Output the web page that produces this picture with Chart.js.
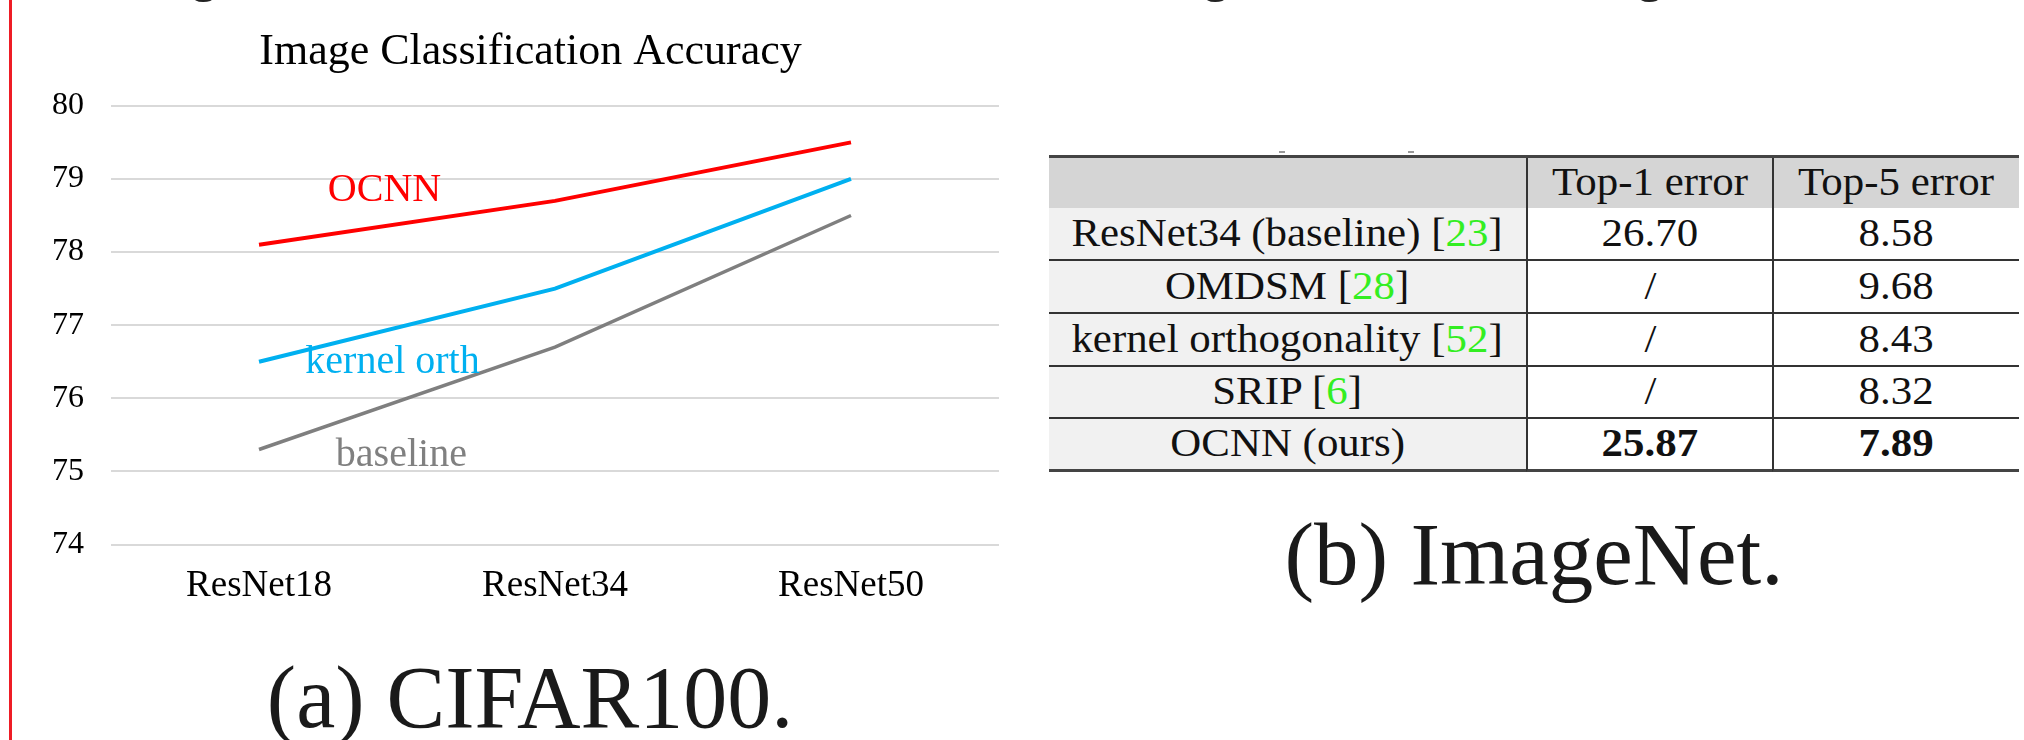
<!DOCTYPE html>
<html>
<head>
<meta charset="utf-8">
<script src="https://cdn.jsdelivr.net/npm/chart.js@4.4.1/dist/chart.umd.min.js"></script>
<style>
    html, body {
        margin: 0;
        width: 2024px;
        height: 740px;
        overflow: hidden;
        background: #fff;
        color: #111;
        font-family: "Liberation Serif", "Times New Roman", serif;
    }
    .red-rule {
        position: absolute;
        left: 9px;
        top: 0;
        width: 3px;
        height: 740px;
        background: #ee1c25;
    }
    .cut-glyph {
        position: absolute;
        top: -52px;
        font-size: 52px;
        line-height: 1;
        color: #222;
    }
    .dash {
        position: absolute;
        top: 151px;
        width: 6px;
        height: 2px;
        background: #999;
    }
    #accChart {
        position: absolute;
        left: 0;
        top: 0;
    }
    .caption {
        position: absolute;
        width: 900px;
        text-align: center;
        line-height: 1;
        color: #1a1a1a;
        white-space: nowrap;
    }
    #resultTable {
        position: absolute;
        left: 1049px;
        top: 155px;
        width: 970px;
        border-top: 3px solid #444;
        display: grid;
        grid-template-columns: 477px 246px 247px;
        grid-template-rows: 50px 53px 53px 53px 52px 53px;
    }
    .cell {
        box-sizing: border-box;
        display: flex;
        align-items: center;
        justify-content: center;
        font-size: 39px;
        line-height: 1;
        padding-bottom: 3px;
        background: #fff;
        border-bottom: 2px solid #333;
        white-space: nowrap;
    }
    .cell span.txt {
        display: inline-block;
        transform: scaleX(1.1);
    }
    .cell.head { background: #d5d5d5; border-bottom: none; }
    .cell.name { background: #f1f1f1; }
    .cell.col2, .cell.col3 { border-left: 2px solid #333; }
    .cell.last { border-bottom: 3px solid #444; }
    .cell.bold { font-weight: bold; }
    .ref { color: #33ee22; }
</style>
</head>
<body>
<div class="red-rule"></div>
<span class="cut-glyph" style="left:191px">g</span>
<span class="cut-glyph" style="left:1203px">g</span>
<span class="cut-glyph" style="left:1637px">g</span>
<div class="dash" style="left:1279px"></div>
<div class="dash" style="left:1408px"></div>

<canvas id="accChart" width="999" height="627"></canvas>

<div id="resultTable"></div>

<div class="caption" style="left:80px; top:654px; font-size:88px;">(a) CIFAR100.</div>
<div class="caption" style="left:1084px; top:510px; font-size:89px;">(b) ImageNet.</div>

<script>
// Chart data
const categories = ['ResNet18', 'ResNet34', 'ResNet50'];
const ocnnAcc = [78.1, 78.7, 79.5];
const kernelOrthAcc = [76.5, 77.5, 79.0];
const baselineAcc = [75.3, 76.7, 78.5];
const yTicks = [74, 75, 76, 77, 78, 79, 80];

// Table data
const tableHeaders = ['', 'Top-1 error', 'Top-5 error'];
const methods = ['ResNet34 (baseline)', 'OMDSM', 'kernel orthogonality', 'SRIP', 'OCNN (ours)'];
const refs = ['23', '28', '52', '6', ''];
const top1Err = ['26.70', '/', '/', '/', '25.87'];
const top5Err = ['8.58', '9.68', '8.43', '8.32', '7.89'];

document.addEventListener('DOMContentLoaded', function() {
    buildTable();
    drawChart();
});

function buildTable() {
    const table = document.getElementById('resultTable');
    let html = '';

    tableHeaders.forEach((h, i) => {
        html += '<div class="cell head col' + (i + 1) + '"><span class="txt">' + h + '</span></div>';
    });

    methods.forEach((m, r) => {
        const isLast = r === methods.length - 1;
        const extra = isLast ? ' last' : '';
        let name = m;
        if (refs[r]) name += ' [<span class="ref">' + refs[r] + '</span>]';
        html += '<div class="cell name col1' + extra + '"><span class="txt">' + name + '</span></div>';
        html += '<div class="cell col2' + extra + (isLast ? ' bold' : '') + '"><span class="txt">' + top1Err[r] + '</span></div>';
        html += '<div class="cell col3' + extra + (isLast ? ' bold' : '') + '"><span class="txt">' + top5Err[r] + '</span></div>';
    });

    table.innerHTML = html;
}

// where each series name sits, in (category index, accuracy) units
const labelAnchors = [[0.424, 78.70], [0.451, 76.34], [0.481, 75.08]];

const lineLabels = {
    id: 'lineLabels',
    afterLayout(chart) {
        // title in the original is centred a little right of the canvas middle
        chart.titleBlock.left += 6;
        chart.titleBlock.right += 6;
    },
    afterDatasetsDraw(chart) {
        const ctx = chart.ctx;
        const x = chart.scales.x;
        const y = chart.scales.y;
        ctx.save();
        ctx.font = '40px "Liberation Serif", serif';
        ctx.textAlign = 'center';
        ctx.textBaseline = 'alphabetic';
        chart.data.datasets.forEach((ds, i) => {
            ctx.fillStyle = ds.labelColor;
            ctx.fillText(ds.label, x.getPixelForValue(labelAnchors[i][0]), y.getPixelForValue(labelAnchors[i][1]));
        });
        ctx.restore();
    }
};

function drawChart() {
    Chart.defaults.font.family = '"Liberation Serif", serif';
    Chart.defaults.color = '#000';

    const ctx = document.getElementById('accChart').getContext('2d');
    new Chart(ctx, {
        type: 'line',
        data: {
            labels: categories,
            datasets: [{
                label: 'OCNN',
                data: ocnnAcc,
                borderColor: '#ff0000',
                labelColor: '#ff0000',
                borderWidth: 4,
                pointRadius: 0,
                tension: 0
            }, {
                label: 'kernel orth',
                data: kernelOrthAcc,
                borderColor: '#00b0f0',
                labelColor: '#00b0f0',
                borderWidth: 4,
                pointRadius: 0,
                tension: 0
            }, {
                label: 'baseline',
                data: baselineAcc,
                borderColor: '#7f7f7f',
                labelColor: '#808080',
                borderWidth: 3.5,
                pointRadius: 0,
                tension: 0
            }]
        },
        options: {
            responsive: false,
            animation: false,
            layout: {
                padding: { left: 50, right: 0, top: 0, bottom: 0 }
            },
            plugins: {
                legend: { display: false },
                tooltip: { enabled: false },
                title: {
                    display: true,
                    text: 'Image Classification Accuracy',
                    color: '#000',
                    font: { size: 44, weight: 'normal' },
                    padding: { top: 26, bottom: 27 }
                }
            },
            scales: {
                x: {
                    offset: true,
                    grid: { display: false, drawTicks: false },
                    border: { display: false },
                    ticks: {
                        font: { size: 37 },
                        color: '#000',
                        padding: 19
                    }
                },
                y: {
                    min: yTicks[0],
                    max: yTicks[yTicks.length - 1],
                    grid: {
                        color: '#d9d9d9',
                        lineWidth: 2,
                        drawTicks: false
                    },
                    border: { display: false },
                    ticks: {
                        stepSize: 1,
                        font: { size: 32 },
                        color: '#000',
                        padding: 27
                    },
                    afterFit: function(scale) {
                        scale.width = 61;
                    }
                }
            }
        },
        plugins: [lineLabels]
    });
}
</script>
</body>
</html>
